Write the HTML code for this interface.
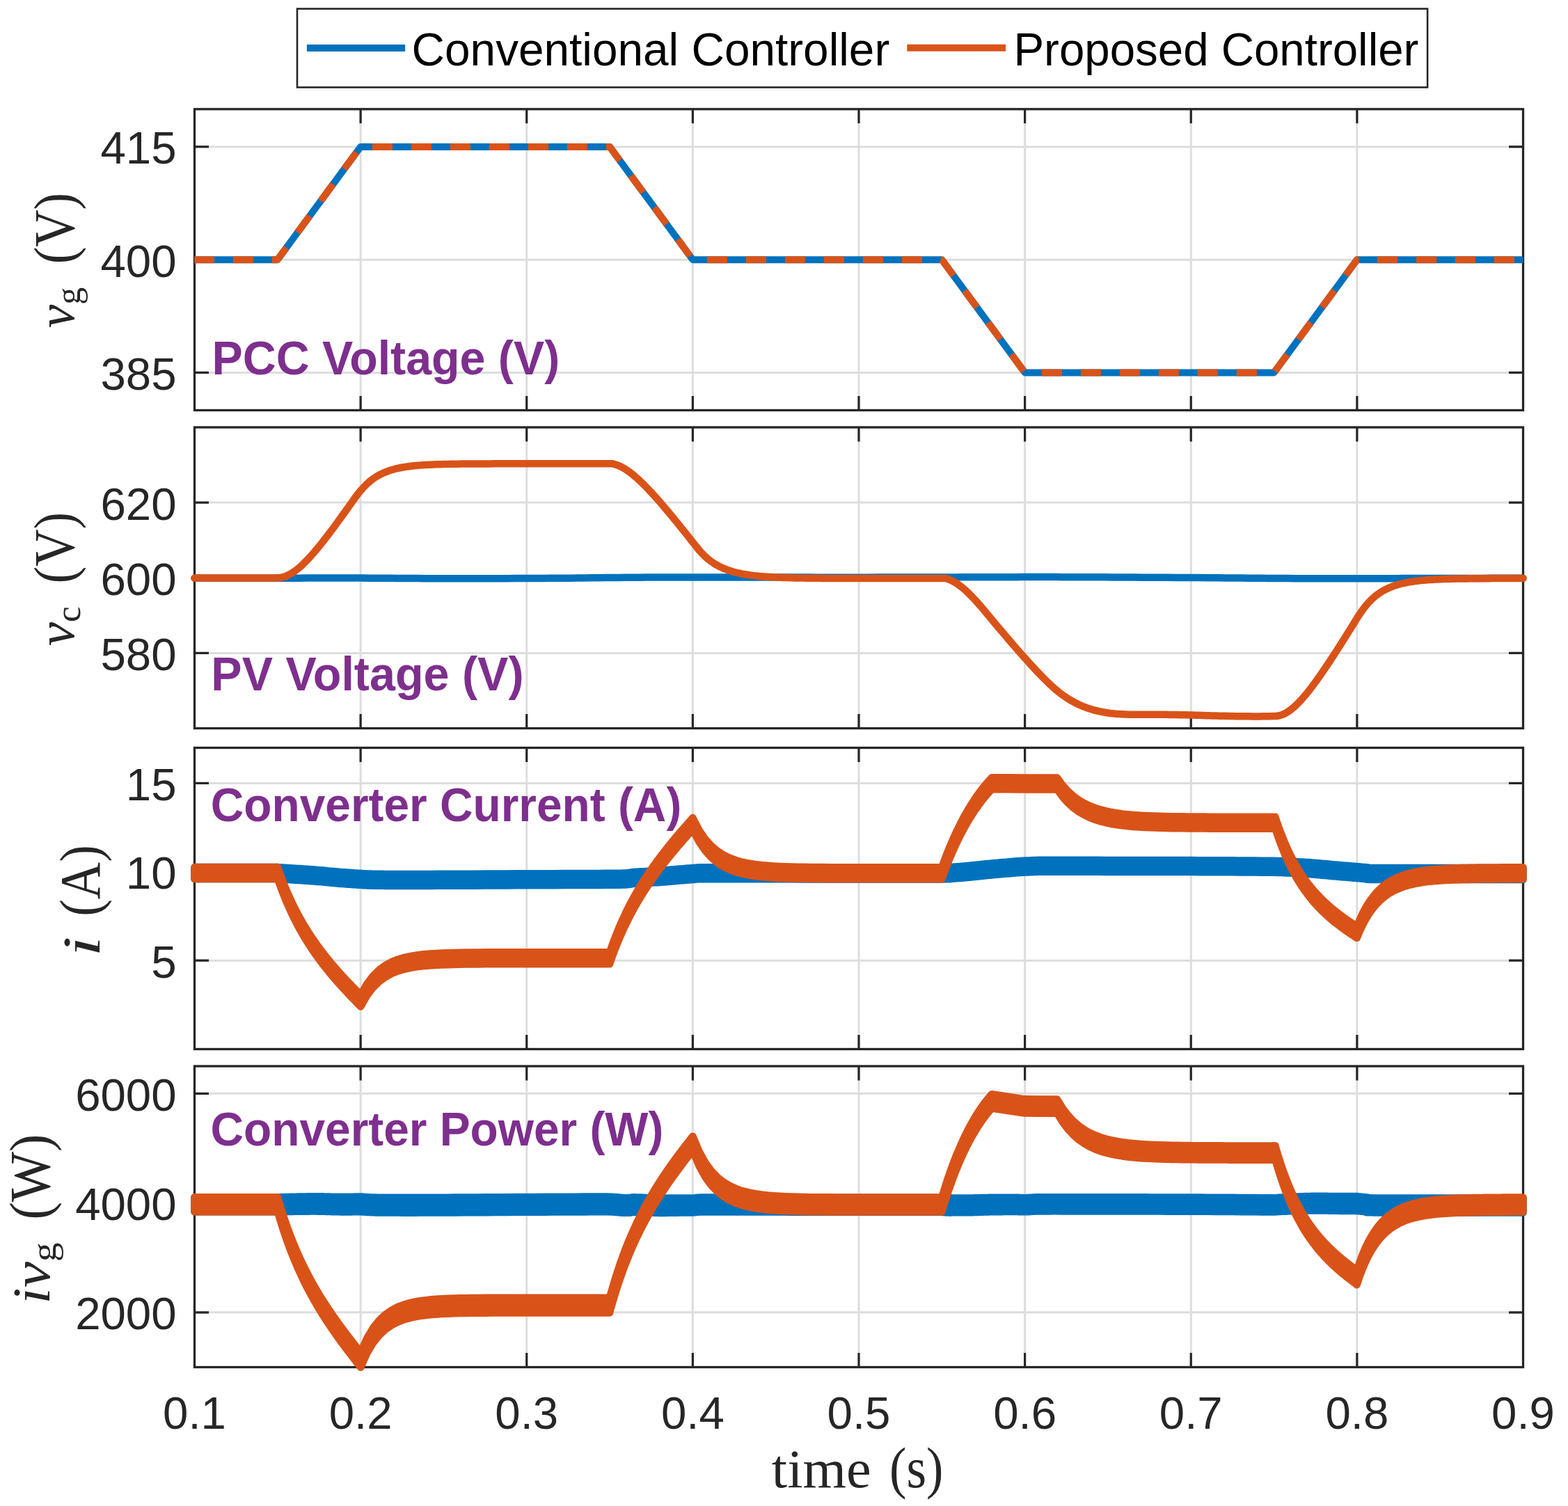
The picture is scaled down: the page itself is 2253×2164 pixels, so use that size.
<!DOCTYPE html>
<html><head><meta charset="utf-8"><title>Controller comparison</title><style>
html,body{margin:0;padding:0;background:#fff;}
svg{display:block;}
.tk{font-family:"Liberation Sans",Arial,Helvetica,sans-serif;font-size:65.4px;fill:#262626;}
.ttl{font-family:"Liberation Sans",Arial,Helvetica,sans-serif;font-size:65px;font-weight:bold;fill:#7E2F8E;}
.lg{font-family:"Liberation Sans",Arial,Helvetica,sans-serif;font-size:65px;fill:#000;}
.lx{font-family:"Liberation Serif","Times New Roman",serif;font-size:77px;fill:#262626;}
</style></head><body>
<svg xmlns="http://www.w3.org/2000/svg" width="2253" height="2164" viewBox="0 0 2253 2164">
<rect x="0" y="0" width="2253" height="2164" fill="#ffffff"/>
<path d="M518.12,156.8V589.5M756.75,156.8V589.5M995.38,156.8V589.5M1234,156.8V589.5M1472.62,156.8V589.5M1711.25,156.8V589.5M1949.88,156.8V589.5M279.5,535.41H2188.5M279.5,373.15H2188.5M279.5,210.89H2188.5" stroke="#DDDDDD" stroke-width="3" fill="none"/>
<path d="M518.12,156.8V177.3M518.12,589.5V569M756.75,156.8V177.3M756.75,589.5V569M995.38,156.8V177.3M995.38,589.5V569M1234,156.8V177.3M1234,589.5V569M1472.62,156.8V177.3M1472.62,589.5V569M1711.25,156.8V177.3M1711.25,589.5V569M1949.88,156.8V177.3M1949.88,589.5V569M279.5,535.41H300M2188.5,535.41H2168M279.5,373.15H300M2188.5,373.15H2168M279.5,210.89H300M2188.5,210.89H2168" stroke="#262626" stroke-width="3.2" fill="none"/>
<rect x="279.5" y="156.8" width="1909" height="432.7" fill="none" stroke="#262626" stroke-width="3.3"/>
<text x="253.6" y="560.01" class="tk" text-anchor="end">385</text>
<text x="253.6" y="397.75" class="tk" text-anchor="end">400</text>
<text x="253.6" y="235.49" class="tk" text-anchor="end">415</text>
<path d="M518.12,614V1046.5M756.75,614V1046.5M995.38,614V1046.5M1234,614V1046.5M1472.62,614V1046.5M1711.25,614V1046.5M1949.88,614V1046.5M279.5,938.38H2188.5M279.5,830.25H2188.5M279.5,722.12H2188.5" stroke="#DDDDDD" stroke-width="3" fill="none"/>
<path d="M518.12,614V634.5M518.12,1046.5V1026M756.75,614V634.5M756.75,1046.5V1026M995.38,614V634.5M995.38,1046.5V1026M1234,614V634.5M1234,1046.5V1026M1472.62,614V634.5M1472.62,1046.5V1026M1711.25,614V634.5M1711.25,1046.5V1026M1949.88,614V634.5M1949.88,1046.5V1026M279.5,938.38H300M2188.5,938.38H2168M279.5,830.25H300M2188.5,830.25H2168M279.5,722.12H300M2188.5,722.12H2168" stroke="#262626" stroke-width="3.2" fill="none"/>
<rect x="279.5" y="614" width="1909" height="432.5" fill="none" stroke="#262626" stroke-width="3.3"/>
<text x="253.6" y="962.98" class="tk" text-anchor="end">580</text>
<text x="253.6" y="854.85" class="tk" text-anchor="end">600</text>
<text x="253.6" y="746.73" class="tk" text-anchor="end">620</text>
<path d="M518.12,1074.5V1507.5M756.75,1074.5V1507.5M995.38,1074.5V1507.5M1234,1074.5V1507.5M1472.62,1074.5V1507.5M1711.25,1074.5V1507.5M1949.88,1074.5V1507.5M279.5,1380.15H2188.5M279.5,1252.79H2188.5M279.5,1125.44H2188.5" stroke="#DDDDDD" stroke-width="3" fill="none"/>
<path d="M518.12,1074.5V1095M518.12,1507.5V1487M756.75,1074.5V1095M756.75,1507.5V1487M995.38,1074.5V1095M995.38,1507.5V1487M1234,1074.5V1095M1234,1507.5V1487M1472.62,1074.5V1095M1472.62,1507.5V1487M1711.25,1074.5V1095M1711.25,1507.5V1487M1949.88,1074.5V1095M1949.88,1507.5V1487M279.5,1380.15H300M2188.5,1380.15H2168M279.5,1252.79H300M2188.5,1252.79H2168M279.5,1125.44H300M2188.5,1125.44H2168" stroke="#262626" stroke-width="3.2" fill="none"/>
<rect x="279.5" y="1074.5" width="1909" height="433" fill="none" stroke="#262626" stroke-width="3.3"/>
<text x="253.6" y="1404.75" class="tk" text-anchor="end">5</text>
<text x="253.6" y="1277.39" class="tk" text-anchor="end">10</text>
<text x="253.6" y="1150.04" class="tk" text-anchor="end">15</text>
<path d="M518.12,1532V1964.5M756.75,1532V1964.5M995.38,1532V1964.5M1234,1532V1964.5M1472.62,1532V1964.5M1711.25,1532V1964.5M1949.88,1532V1964.5M279.5,1885.86H2188.5M279.5,1728.59H2188.5M279.5,1571.32H2188.5" stroke="#DDDDDD" stroke-width="3" fill="none"/>
<path d="M518.12,1532V1552.5M518.12,1964.5V1944M756.75,1532V1552.5M756.75,1964.5V1944M995.38,1532V1552.5M995.38,1964.5V1944M1234,1532V1552.5M1234,1964.5V1944M1472.62,1532V1552.5M1472.62,1964.5V1944M1711.25,1532V1552.5M1711.25,1964.5V1944M1949.88,1532V1552.5M1949.88,1964.5V1944M279.5,1885.86H300M2188.5,1885.86H2168M279.5,1728.59H300M2188.5,1728.59H2168M279.5,1571.32H300M2188.5,1571.32H2168" stroke="#262626" stroke-width="3.2" fill="none"/>
<rect x="279.5" y="1532" width="1909" height="432.5" fill="none" stroke="#262626" stroke-width="3.3"/>
<text x="253.6" y="1910.46" class="tk" text-anchor="end">2000</text>
<text x="253.6" y="1753.19" class="tk" text-anchor="end">4000</text>
<text x="253.6" y="1595.92" class="tk" text-anchor="end">6000</text>
<path d="M279.5,373.15L398.81,373.15L518.12,210.89L876.06,210.89L995.38,373.15L1353.31,373.15L1472.62,535.41L1830.56,535.41L1949.88,373.15L2188.5,373.15" stroke="#0072BD" stroke-width="10" fill="none" stroke-linecap="butt" stroke-linejoin="round"/>
<path d="M279.5,373.15L398.81,373.15L518.12,210.89L876.06,210.89L995.38,373.15L1353.31,373.15L1472.62,535.41L1830.56,535.41L1949.88,373.15L2188.5,373.15" stroke="#D95319" stroke-width="10" fill="none" stroke-linecap="butt" stroke-linejoin="round" stroke-dasharray="28.40 26.90 29.10 26.90 29.33 27.20 29.42 27.20 29.42 27.20 29.42 27.01 29.10 26.90 29.10 26.90 29.10 26.90 29.10 26.90 29.10 26.90 29.10 26.90 29.46 27.31 29.54 27.31 29.54 27.31 29.54 27.00 29.10 26.90 29.10 26.90 29.10 26.90 29.10 26.90 29.10 26.90 29.10 26.90 29.53 27.32 29.55 27.32 29.55 27.32 29.55 26.94 29.10 26.90 29.10 26.90 29.10 26.90 29.10 26.90 29.10 26.90 29.10 26.95 29.72 27.47 29.72 27.47 29.72 27.47 29.67 26.90 29.10 26.90 29.10 26.90 29.10 26.90 29.10 1012.48"/>
<path d="M279.5,830.7L286.76,830.7L296.22,830.7L307.44,830.71L320.01,830.71L333.5,830.71L347.49,830.71L361.56,830.71L375.28,830.71L388.24,830.71L400,830.7L410.83,830.68L421.31,830.66L431.51,830.63L441.48,830.6L451.28,830.56L460.98,830.53L470.65,830.51L480.33,830.49L490.09,830.49L500,830.5L510,830.53L520,830.58L530,830.64L540,830.71L550,830.78L560,830.86L570,830.93L580,831L590,831.06L600,831.1L610,831.13L620,831.16L630,831.18L640,831.2L650,831.21L660,831.22L670,831.22L680,831.22L690,831.21L700,831.2L710,831.18L720,831.16L730,831.14L740,831.1L750,831.07L760,831.03L770,830.98L780,830.93L790,830.87L800,830.8L810,830.72L820,830.63L830,830.53L840,830.41L850,830.3L860,830.19L870,830.07L880,829.97L890,829.88L900,829.8L910,829.73L920,829.67L930,829.62L940,829.57L950,829.52L960,829.49L970,829.46L980,829.43L990,829.41L1000,829.4L1009.55,829.4L1018.4,829.4L1026.85,829.42L1035.2,829.45L1043.75,829.47L1052.8,829.51L1062.65,829.54L1073.6,829.56L1085.95,829.59L1100,829.6L1116.4,829.61L1135.2,829.62L1155.8,829.62L1177.6,829.63L1200,829.63L1222.4,829.63L1244.2,829.63L1264.8,829.62L1283.6,829.61L1300,829.6L1314.05,829.58L1326.4,829.56L1337.35,829.53L1347.2,829.5L1356.25,829.46L1364.8,829.43L1373.15,829.39L1381.6,829.36L1390.45,829.33L1400,829.3L1410,829.27L1420,829.25L1430,829.22L1440,829.19L1450,829.16L1460,829.14L1470,829.12L1480,829.11L1490,829.1L1500,829.1L1509.78,829.11L1519.2,829.12L1528.42,829.13L1537.6,829.16L1546.88,829.18L1556.4,829.21L1566.33,829.25L1576.8,829.29L1587.97,829.34L1600,829.4L1613.2,829.47L1627.6,829.54L1642.9,829.63L1658.8,829.72L1675,829.82L1691.2,829.92L1707.1,830.02L1722.4,830.12L1736.8,830.21L1750,830.3L1762.03,830.39L1773.2,830.48L1783.67,830.57L1793.6,830.66L1803.12,830.74L1812.4,830.83L1821.58,830.91L1830.8,830.98L1840.22,831.04L1850,831.1L1860,831.15L1870,831.19L1880,831.22L1890,831.25L1900,831.27L1910,831.28L1920,831.3L1930,831.3L1940,831.3L1950,831.3L1959.83,831.29L1969.38,831.27L1978.79,831.24L1988.15,831.21L1997.59,831.17L2007.23,831.14L2017.17,831.1L2027.54,831.06L2038.44,831.03L2050,831L2062.91,830.98L2077.45,830.95L2093.08,830.93L2109.28,830.9L2125.5,830.88L2141.22,830.86L2155.92,830.84L2169.05,830.83L2180.09,830.81L2188.5,830.8" stroke="#0072BD" stroke-width="10.5" fill="none" stroke-linecap="round" stroke-linejoin="round"/>
<path d="M279.5,830.6L284.55,830.6L289.6,830.6L294.64,830.6L299.69,830.6L304.74,830.6L309.79,830.6L314.84,830.6L319.88,830.6L324.93,830.6L329.98,830.6L335.03,830.6L340.07,830.6L345.12,830.6L350.17,830.6L355.22,830.6L360.27,830.6L365.31,830.6L370.36,830.6L375.41,830.6L380.46,830.6L385.51,830.6L390.55,830.6L395.6,830.59L400.65,830.32L405.7,829.47L410.75,827.9L415.79,825.6L420.84,822.61L425.89,818.98L430.94,814.8L435.98,810.14L441.03,805.07L446.08,799.63L451.13,793.9L456.18,787.9L461.22,781.69L466.27,775.3L471.32,768.75L476.37,762.06L481.42,755.27L486.46,748.38L491.51,741.42L496.56,734.38L501.61,727.3L506.66,720.16L511.7,713.16L516.75,706.65L521.8,700.81L526.85,695.68L531.89,691.24L536.94,687.42L541.99,684.17L547.04,681.4L552.09,679.05L557.13,677.06L562.18,675.38L567.23,673.96L572.28,672.76L577.33,671.75L582.37,670.9L587.42,670.18L592.47,669.57L597.52,669.06L602.57,668.62L607.61,668.26L612.66,667.95L617.71,667.69L622.76,667.48L627.81,667.29L632.85,667.14L637.9,667L642.95,666.89L648,666.8L653.04,666.72L658.09,666.66L663.14,666.6L668.19,666.55L673.24,666.51L678.28,666.48L683.33,666.45L688.38,666.43L693.43,666.41L698.48,666.39L703.52,666.38L708.57,666.36L713.62,666.35L718.67,666.35L723.72,666.34L728.76,666.33L733.81,666.33L738.86,666.32L743.91,666.32L748.95,666.32L754,666.31L759.05,666.31L764.1,666.31L769.15,666.31L774.19,666.31L779.24,666.31L784.29,666.31L789.34,666.3L794.39,666.3L799.43,666.3L804.48,666.3L809.53,666.3L814.58,666.3L819.63,666.3L824.67,666.3L829.72,666.3L834.77,666.3L839.82,666.3L844.86,666.3L849.91,666.3L854.96,666.3L860.01,666.3L865.06,666.3L870.1,666.3L875.15,666.3L880.2,666.3L884.22,667.48L888.25,668.83L892.27,670.63L896.3,672.8L900.32,675.33L904.35,678.16L908.37,681.26L912.39,684.6L916.42,688.15L920.44,691.89L924.47,695.81L928.49,699.87L932.52,704.07L936.54,708.38L940.57,712.8L944.59,717.31L948.61,721.91L952.64,726.58L956.66,731.31L960.69,736.1L964.71,740.95L968.74,745.84L972.76,750.77L976.78,755.74L980.81,760.73L984.83,765.76L988.86,770.81L992.88,775.89L996.91,780.98L1000.93,786.1L1004.96,791.09L1008.98,795.57L1013,799.54L1017.03,803.07L1021.05,806.21L1025.08,808.99L1029.1,811.47L1033.13,813.66L1037.15,815.61L1041.17,817.34L1045.2,818.88L1049.22,820.25L1053.25,821.46L1057.27,822.54L1061.3,823.5L1065.32,824.35L1069.35,825.1L1073.37,825.77L1077.39,826.37L1081.42,826.9L1085.44,827.37L1089.47,827.79L1093.49,828.16L1097.52,828.49L1101.54,828.78L1105.56,829.04L1109.59,829.27L1113.61,829.47L1117.64,829.66L1121.66,829.82L1125.69,829.96L1129.71,830.09L1133.74,830.2L1137.76,830.3L1141.78,830.39L1145.81,830.47L1149.83,830.54L1153.86,830.6L1157.88,830.66L1161.91,830.71L1165.93,830.75L1169.95,830.79L1173.98,830.83L1178,830.86L1182.03,830.88L1186.05,830.91L1190.08,830.93L1194.1,830.95L1198.13,830.97L1202.15,830.98L1206.17,830.99L1210.2,831.01L1214.22,831.02L1218.25,831.03L1222.27,831.03L1226.3,831.04L1230.32,831.05L1234.34,831.05L1238.37,831.06L1242.39,831.06L1246.42,831.07L1250.44,831.07L1254.47,831.07L1258.49,831.08L1262.52,831.08L1266.54,831.08L1270.56,831.08L1274.59,831.09L1278.61,831.09L1282.64,831.09L1286.66,831.09L1290.69,831.09L1294.71,831.09L1298.73,831.09L1302.76,831.09L1306.78,831.09L1310.81,831.1L1314.83,831.1L1318.86,831.1L1322.88,831.1L1326.91,831.1L1330.93,831.1L1334.95,831.1L1338.98,831.1L1343,831.1L1347.03,831.1L1351.05,831.1L1355.08,831.1L1359.1,831.1L1363.89,832.68L1368.69,834.84L1373.48,837.58L1378.28,840.86L1383.07,844.62L1387.87,848.8L1392.66,853.37L1397.46,858.26L1402.25,863.43L1407.05,868.82L1411.84,874.38L1416.64,880.06L1421.43,885.81L1426.23,891.58L1431.02,897.33L1435.82,903.05L1440.61,908.74L1445.41,914.4L1450.2,920.02L1455,925.59L1459.79,931.12L1464.59,936.59L1469.38,942.01L1474.18,947.37L1478.97,952.67L1483.77,957.9L1488.56,963.05L1493.36,968.13L1498.15,973.09L1502.95,977.91L1507.74,982.56L1512.54,986.99L1517.33,991.18L1522.13,995.09L1526.92,998.7L1531.72,1002.03L1536.51,1005.09L1541.31,1007.88L1546.1,1010.43L1550.9,1012.73L1555.69,1014.81L1560.49,1016.68L1565.28,1018.34L1570.08,1019.81L1574.87,1021.1L1579.67,1022.22L1584.46,1023.19L1589.26,1024.01L1594.05,1024.69L1598.85,1025.26L1603.64,1025.71L1608.44,1026.07L1613.23,1026.33L1618.03,1026.52L1622.82,1026.65L1627.62,1026.72L1632.41,1026.75L1637.21,1026.75L1642,1026.73L1646.8,1026.71L1651.59,1026.69L1656.39,1026.68L1661.18,1026.69L1665.98,1026.72L1670.77,1026.76L1675.57,1026.81L1680.36,1026.88L1685.16,1026.96L1689.95,1027.05L1694.75,1027.15L1699.54,1027.26L1704.34,1027.37L1709.13,1027.49L1713.93,1027.61L1718.72,1027.74L1723.52,1027.87L1728.31,1028L1733.11,1028.14L1737.9,1028.27L1742.7,1028.4L1747.49,1028.52L1752.29,1028.65L1757.08,1028.76L1761.88,1028.87L1766.67,1028.98L1771.47,1029.07L1776.26,1029.15L1781.06,1029.23L1785.85,1029.29L1790.65,1029.34L1795.44,1029.37L1800.24,1029.39L1805.03,1029.39L1809.83,1029.38L1814.62,1029.34L1819.42,1029.29L1824.21,1029.22L1829.01,1029.12L1833.8,1029L1836.78,1028.57L1839.76,1027.86L1842.74,1026.84L1845.72,1025.52L1848.7,1023.91L1851.68,1022.01L1854.66,1019.85L1857.65,1017.44L1860.63,1014.81L1863.61,1011.97L1866.59,1008.94L1869.57,1005.74L1872.55,1002.38L1875.53,998.87L1878.51,995.23L1881.49,991.47L1884.47,987.6L1887.45,983.63L1890.43,979.58L1893.41,975.44L1896.39,971.22L1899.37,966.94L1902.36,962.6L1905.34,958.2L1908.32,953.75L1911.3,949.25L1914.28,944.71L1917.26,940.13L1920.24,935.52L1923.22,930.88L1926.2,926.2L1929.18,921.5L1932.16,916.78L1935.14,912.04L1938.12,907.27L1941.1,902.49L1944.08,897.7L1947.07,892.88L1950.05,888.09L1953.03,883.44L1956.01,879.02L1958.99,874.88L1961.97,871.04L1964.95,867.49L1967.93,864.24L1970.91,861.25L1973.89,858.52L1976.87,856.03L1979.85,853.77L1982.83,851.7L1985.81,849.82L1988.79,848.11L1991.78,846.55L1994.76,845.14L1997.74,843.85L2000.72,842.68L2003.7,841.62L2006.68,840.65L2009.66,839.77L2012.64,838.97L2015.62,838.25L2018.6,837.59L2021.58,836.99L2024.56,836.44L2027.54,835.95L2030.52,835.5L2033.51,835.09L2036.49,834.71L2039.47,834.38L2042.45,834.07L2045.43,833.79L2048.41,833.53L2051.39,833.3L2054.37,833.09L2057.35,832.9L2060.33,832.73L2063.31,832.57L2066.29,832.43L2069.27,832.3L2072.25,832.18L2075.23,832.07L2078.22,831.98L2081.2,831.89L2084.18,831.81L2087.16,831.73L2090.14,831.67L2093.12,831.61L2096.1,831.55L2099.08,831.5L2102.06,831.45L2105.04,831.41L2108.02,831.38L2111,831.34L2113.98,831.31L2116.96,831.28L2119.94,831.26L2122.93,831.23L2125.91,831.21L2128.89,831.19L2131.87,831.17L2134.85,831.16L2137.83,831.14L2140.81,831.13L2143.79,831.12L2146.77,831.11L2149.75,831.1L2152.73,831.09L2155.71,831.08L2158.69,831.07L2161.67,831.07L2164.65,831.06L2167.64,831.06L2170.62,831.05L2173.6,831.05L2176.58,831.04L2179.56,831.04L2182.54,831.03L2185.52,831.03L2188.5,831.03" stroke="#D95319" stroke-width="10.5" fill="none" stroke-linecap="round" stroke-linejoin="round"/>
<path d="M279.5,1246.1L309.38,1246.1L339.25,1246.1L369.12,1246.1L399,1246.1L400.93,1246.22L403.46,1246.38L406.45,1246.56L409.81,1246.77L413.41,1246.99L417.13,1247.22L420.87,1247.45L424.5,1247.68L427.92,1247.9L431,1248.1L433.81,1248.29L436.52,1248.46L439.13,1248.64L441.67,1248.81L444.16,1248.97L446.61,1249.15L449.05,1249.32L451.5,1249.5L453.98,1249.7L456.5,1249.9L459.05,1250.12L461.6,1250.35L464.15,1250.59L466.7,1250.84L469.25,1251.09L471.8,1251.35L474.35,1251.6L476.9,1251.84L479.45,1252.08L482,1252.3L484.55,1252.51L487.1,1252.72L489.65,1252.92L492.2,1253.12L494.75,1253.31L497.3,1253.5L499.85,1253.68L502.4,1253.86L504.95,1254.03L507.5,1254.2L510.04,1254.37L512.58,1254.53L515.1,1254.69L517.63,1254.85L520.16,1255L522.69,1255.14L525.24,1255.28L527.8,1255.4L530.39,1255.51L533,1255.6L535.49,1255.68L537.78,1255.74L539.95,1255.78L542.11,1255.81L544.34,1255.84L546.75,1255.85L549.43,1255.87L552.46,1255.88L555.96,1255.89L560,1255.9L564.33,1255.91L568.69,1255.93L573.21,1255.94L578.02,1255.95L583.25,1255.96L589.02,1255.96L595.45,1255.95L602.67,1255.94L610.81,1255.93L620,1255.9L630.51,1255.86L642.36,1255.82L655.3,1255.76L669.08,1255.7L683.44,1255.63L698.12,1255.56L712.87,1255.49L727.44,1255.42L741.57,1255.36L755,1255.3L768.36,1255.25L782.27,1255.2L796.45,1255.15L810.62,1255.1L824.5,1255.06L837.82,1255.01L850.31,1254.96L861.69,1254.91L871.68,1254.86L880,1254.8L886.49,1254.74L891.35,1254.68L894.84,1254.62L897.22,1254.56L898.75,1254.5L899.7,1254.43L900.34,1254.36L900.93,1254.28L901.73,1254.2L903,1254.1L904.35,1254L905.28,1253.89L905.91,1253.77L906.36,1253.65L906.75,1253.52L907.2,1253.38L907.83,1253.25L908.76,1253.1L910.11,1252.95L912,1252.8L914.49,1252.64L917.5,1252.48L920.92,1252.3L924.63,1252.13L928.53,1251.94L932.51,1251.76L936.45,1251.57L940.26,1251.38L943.81,1251.19L947,1251L949.88,1250.81L952.59,1250.61L955.15,1250.41L957.6,1250.21L959.97,1250.01L962.28,1249.8L964.55,1249.6L966.83,1249.4L969.14,1249.2L971.5,1249L973.91,1248.8L976.33,1248.6L978.75,1248.39L981.16,1248.18L983.56,1247.98L985.93,1247.78L988.27,1247.59L990.57,1247.41L992.81,1247.25L995,1247.1L996.82,1246.96L998.12,1246.84L999.09,1246.72L999.96,1246.62L1000.93,1246.52L1002.21,1246.44L1004.01,1246.36L1006.53,1246.3L1009.99,1246.24L1014.6,1246.2L1020.25,1246.17L1026.68,1246.15L1033.82,1246.15L1041.64,1246.16L1050.09,1246.18L1059.11,1246.2L1068.66,1246.23L1078.69,1246.26L1089.16,1246.28L1100,1246.3L1111.57,1246.32L1124.1,1246.34L1137.39,1246.36L1151.24,1246.39L1165.46,1246.41L1179.84,1246.44L1194.19,1246.46L1208.29,1246.48L1221.97,1246.49L1235,1246.5L1247.96,1246.5L1261.35,1246.51L1274.93,1246.51L1288.42,1246.51L1301.56,1246.5L1314.1,1246.49L1325.78,1246.48L1336.33,1246.46L1345.49,1246.43L1353,1246.4L1358.56,1246.37L1362.27,1246.33L1364.48,1246.3L1365.53,1246.26L1365.77,1246.22L1365.55,1246.16L1365.22,1246.1L1365.12,1246.02L1365.59,1245.92L1367,1245.8L1369.1,1245.66L1371.42,1245.5L1373.91,1245.32L1376.53,1245.12L1379.24,1244.92L1382,1244.7L1384.76,1244.48L1387.49,1244.25L1390.15,1244.03L1392.7,1243.8L1395.17,1243.57L1397.62,1243.32L1400.06,1243.07L1402.48,1242.81L1404.88,1242.55L1407.26,1242.29L1409.61,1242.03L1411.94,1241.78L1414.23,1241.53L1416.5,1241.3L1418.71,1241.08L1420.84,1240.87L1422.92,1240.67L1424.96,1240.47L1426.99,1240.28L1429.04,1240.08L1431.11,1239.89L1433.23,1239.7L1435.42,1239.5L1437.7,1239.3L1440.12,1239.09L1442.66,1238.87L1445.31,1238.64L1448.01,1238.41L1450.72,1238.18L1453.42,1237.95L1456.05,1237.74L1458.59,1237.54L1460.98,1237.36L1463.2,1237.2L1465.21,1237.06L1467.04,1236.95L1468.73,1236.84L1470.33,1236.76L1471.86,1236.68L1473.37,1236.61L1474.9,1236.54L1476.48,1236.48L1478.17,1236.42L1480,1236.35L1481.61,1236.28L1482.75,1236.21L1483.65,1236.14L1484.52,1236.08L1485.59,1236.02L1487.06,1235.96L1489.16,1235.91L1492.11,1235.86L1496.11,1235.83L1501.4,1235.8L1508.07,1235.78L1515.96,1235.78L1524.88,1235.78L1534.64,1235.79L1545.04,1235.8L1555.89,1235.82L1567,1235.84L1578.19,1235.86L1589.25,1235.88L1600,1235.9L1610.68,1235.91L1621.61,1235.93L1632.74,1235.94L1644.03,1235.95L1655.41,1235.97L1666.84,1235.99L1678.27,1236.01L1689.64,1236.03L1700.9,1236.06L1712,1236.1L1723.31,1236.14L1735.1,1236.19L1747.15,1236.24L1759.23,1236.3L1771.12,1236.36L1782.61,1236.43L1793.46,1236.49L1803.46,1236.56L1812.38,1236.63L1820,1236.7L1826.16,1236.77L1830.99,1236.83L1834.73,1236.9L1837.62,1236.97L1839.88,1237.04L1841.74,1237.11L1843.46,1237.19L1845.25,1237.29L1847.35,1237.39L1850,1237.5L1853.04,1237.63L1856.13,1237.77L1859.25,1237.91L1862.38,1238.07L1865.5,1238.24L1868.58,1238.41L1871.59,1238.58L1874.51,1238.75L1877.32,1238.93L1880,1239.1L1882.52,1239.27L1884.9,1239.44L1887.16,1239.62L1889.33,1239.79L1891.44,1239.97L1893.51,1240.15L1895.58,1240.33L1897.66,1240.52L1899.8,1240.71L1902,1240.9L1904.25,1241.1L1906.5,1241.3L1908.76,1241.51L1911.03,1241.72L1913.31,1241.94L1915.61,1242.15L1917.92,1242.37L1920.26,1242.58L1922.61,1242.79L1925,1243L1927.46,1243.21L1930.03,1243.42L1932.67,1243.63L1935.34,1243.84L1938,1244.05L1940.62,1244.26L1943.17,1244.45L1945.61,1244.65L1947.9,1244.83L1950,1245L1951.88,1245.16L1953.56,1245.31L1955.08,1245.46L1956.48,1245.6L1957.81,1245.73L1959.12,1245.86L1960.45,1245.98L1961.84,1246.09L1963.34,1246.2L1965,1246.3L1965.97,1246.4L1965.74,1246.49L1964.85,1246.58L1963.83,1246.66L1963.22,1246.73L1963.55,1246.8L1965.36,1246.86L1969.18,1246.91L1975.55,1246.96L1985,1247L1998.83,1247.03L2017.21,1247.04L2038.97,1247.05L2062.96,1247.05L2088,1247.04L2112.94,1247.03L2136.63,1247.02L2157.89,1247.01L2175.57,1247L2188.5,1247L2188.5,1264L2175.57,1264L2157.89,1264.01L2136.63,1264.02L2112.94,1264.03L2088,1264.04L2062.96,1264.05L2038.97,1264.05L2017.21,1264.04L1998.83,1264.03L1985,1264L1975.55,1263.96L1969.18,1263.91L1965.36,1263.86L1963.55,1263.8L1963.22,1263.73L1963.83,1263.66L1964.85,1263.58L1965.74,1263.49L1965.97,1263.4L1965,1263.3L1963.34,1263.2L1961.84,1263.09L1960.45,1262.98L1959.12,1262.86L1957.81,1262.73L1956.48,1262.6L1955.08,1262.46L1953.56,1262.31L1951.88,1262.16L1950,1262L1947.9,1261.83L1945.61,1261.65L1943.17,1261.45L1940.62,1261.26L1938,1261.05L1935.34,1260.84L1932.67,1260.63L1930.03,1260.42L1927.46,1260.21L1925,1260L1922.61,1259.79L1920.26,1259.58L1917.92,1259.37L1915.61,1259.15L1913.31,1258.94L1911.03,1258.72L1908.76,1258.51L1906.5,1258.3L1904.25,1258.1L1902,1257.9L1899.8,1257.71L1897.66,1257.52L1895.58,1257.33L1893.51,1257.15L1891.44,1256.97L1889.33,1256.79L1887.16,1256.62L1884.9,1256.44L1882.52,1256.27L1880,1256.1L1877.32,1255.93L1874.51,1255.75L1871.59,1255.58L1868.58,1255.41L1865.5,1255.24L1862.38,1255.07L1859.25,1254.91L1856.13,1254.77L1853.04,1254.63L1850,1254.5L1847.35,1254.39L1845.25,1254.29L1843.46,1254.19L1841.74,1254.11L1839.88,1254.04L1837.62,1253.97L1834.73,1253.9L1830.99,1253.83L1826.16,1253.77L1820,1253.7L1812.38,1253.63L1803.46,1253.56L1793.46,1253.49L1782.61,1253.43L1771.12,1253.36L1759.23,1253.3L1747.15,1253.24L1735.1,1253.19L1723.31,1253.14L1712,1253.1L1700.9,1253.06L1689.64,1253.03L1678.27,1253.01L1666.84,1252.99L1655.41,1252.97L1644.03,1252.95L1632.74,1252.94L1621.61,1252.93L1610.68,1252.91L1600,1252.9L1589.25,1252.88L1578.19,1252.86L1567,1252.84L1555.89,1252.82L1545.04,1252.8L1534.64,1252.79L1524.88,1252.78L1515.96,1252.78L1508.07,1252.78L1501.4,1252.8L1496.11,1252.83L1492.11,1252.86L1489.16,1252.91L1487.06,1252.96L1485.59,1253.02L1484.52,1253.08L1483.65,1253.14L1482.75,1253.21L1481.61,1253.28L1480,1253.35L1478.17,1253.42L1476.48,1253.48L1474.9,1253.54L1473.37,1253.61L1471.86,1253.68L1470.33,1253.76L1468.73,1253.84L1467.04,1253.95L1465.21,1254.06L1463.2,1254.2L1460.98,1254.36L1458.59,1254.54L1456.05,1254.74L1453.42,1254.95L1450.72,1255.18L1448.01,1255.41L1445.31,1255.64L1442.66,1255.87L1440.12,1256.09L1437.7,1256.3L1435.42,1256.5L1433.23,1256.7L1431.11,1256.89L1429.04,1257.08L1426.99,1257.28L1424.96,1257.47L1422.92,1257.67L1420.84,1257.87L1418.71,1258.08L1416.5,1258.3L1414.23,1258.53L1411.94,1258.78L1409.61,1259.03L1407.26,1259.29L1404.88,1259.55L1402.48,1259.81L1400.06,1260.07L1397.62,1260.32L1395.17,1260.57L1392.7,1260.8L1390.15,1261.03L1387.49,1261.25L1384.76,1261.48L1382,1261.7L1379.24,1261.92L1376.53,1262.12L1373.91,1262.32L1371.42,1262.5L1369.1,1262.66L1367,1262.8L1365.59,1262.92L1365.12,1263.02L1365.22,1263.1L1365.55,1263.16L1365.77,1263.22L1365.53,1263.26L1364.48,1263.3L1362.27,1263.33L1358.56,1263.37L1353,1263.4L1345.49,1263.43L1336.33,1263.46L1325.78,1263.48L1314.1,1263.49L1301.56,1263.5L1288.42,1263.51L1274.93,1263.51L1261.35,1263.51L1247.96,1263.5L1235,1263.5L1221.97,1263.49L1208.29,1263.48L1194.19,1263.46L1179.84,1263.44L1165.46,1263.41L1151.24,1263.39L1137.39,1263.36L1124.1,1263.34L1111.57,1263.32L1100,1263.3L1089.16,1263.28L1078.69,1263.26L1068.66,1263.23L1059.11,1263.2L1050.09,1263.18L1041.64,1263.16L1033.82,1263.15L1026.68,1263.15L1020.25,1263.17L1014.6,1263.2L1009.99,1263.24L1006.53,1263.3L1004.01,1263.36L1002.21,1263.44L1000.93,1263.52L999.96,1263.62L999.09,1263.72L998.12,1263.84L996.82,1263.96L995,1264.1L992.81,1264.25L990.57,1264.41L988.27,1264.59L985.93,1264.78L983.56,1264.98L981.16,1265.18L978.75,1265.39L976.33,1265.6L973.91,1265.8L971.5,1266L969.14,1266.2L966.83,1266.4L964.55,1266.6L962.28,1266.8L959.97,1267.01L957.6,1267.21L955.15,1267.41L952.59,1267.61L949.88,1267.81L947,1268L943.81,1268.19L940.26,1268.38L936.45,1268.57L932.51,1268.76L928.53,1268.94L924.63,1269.13L920.92,1269.3L917.5,1269.48L914.49,1269.64L912,1269.8L910.11,1269.95L908.76,1270.1L907.83,1270.25L907.2,1270.38L906.75,1270.52L906.36,1270.65L905.91,1270.77L905.28,1270.89L904.35,1271L903,1271.1L901.73,1271.2L900.93,1271.28L900.34,1271.36L899.7,1271.43L898.75,1271.5L897.22,1271.56L894.84,1271.62L891.35,1271.68L886.49,1271.74L880,1271.8L871.68,1271.86L861.69,1271.91L850.31,1271.96L837.82,1272.01L824.5,1272.06L810.62,1272.1L796.45,1272.15L782.27,1272.2L768.36,1272.25L755,1272.3L741.57,1272.36L727.44,1272.42L712.87,1272.49L698.12,1272.56L683.44,1272.63L669.08,1272.7L655.3,1272.76L642.36,1272.82L630.51,1272.86L620,1272.9L610.81,1272.93L602.67,1272.94L595.45,1272.95L589.02,1272.96L583.25,1272.96L578.02,1272.95L573.21,1272.94L568.69,1272.93L564.33,1272.91L560,1272.9L555.96,1272.89L552.46,1272.88L549.43,1272.87L546.75,1272.85L544.34,1272.84L542.11,1272.81L539.95,1272.78L537.78,1272.74L535.49,1272.68L533,1272.6L530.39,1272.51L527.8,1272.4L525.24,1272.28L522.69,1272.14L520.16,1272L517.63,1271.85L515.1,1271.69L512.58,1271.53L510.04,1271.37L507.5,1271.2L504.95,1271.03L502.4,1270.86L499.85,1270.68L497.3,1270.5L494.75,1270.31L492.2,1270.12L489.65,1269.92L487.1,1269.72L484.55,1269.51L482,1269.3L479.45,1269.08L476.9,1268.84L474.35,1268.6L471.8,1268.35L469.25,1268.09L466.7,1267.84L464.15,1267.59L461.6,1267.35L459.05,1267.12L456.5,1266.9L453.98,1266.7L451.5,1266.5L449.05,1266.32L446.61,1266.15L444.16,1265.97L441.67,1265.81L439.13,1265.64L436.52,1265.46L433.81,1265.29L431,1265.1L427.92,1264.9L424.5,1264.68L420.87,1264.45L417.13,1264.22L413.41,1263.99L409.81,1263.77L406.45,1263.56L403.46,1263.38L400.93,1263.22L399,1263.1L369.12,1263.1L339.25,1263.1L309.38,1263.1L279.5,1263.1Z" fill="#0072BD" stroke="#0072BD" stroke-width="10.5" stroke-linejoin="round"/>
<path d="M279.5,1246.1L309.38,1246.1L339.25,1246.1L369.12,1246.1L399,1246.1L401.98,1254.5L404.96,1262.5L407.95,1270.12L410.93,1277.39L413.91,1284.34L416.89,1290.98L419.88,1297.34L422.86,1303.45L425.84,1309.3L428.82,1314.94L431.81,1320.36L434.79,1325.59L437.77,1330.64L440.75,1335.52L443.74,1340.24L446.72,1344.82L449.7,1349.26L452.69,1353.57L455.67,1357.77L458.65,1361.86L461.63,1365.85L464.62,1369.74L467.6,1373.54L470.58,1377.27L473.56,1380.92L476.54,1384.5L479.53,1388.01L482.51,1391.46L485.49,1394.86L488.47,1398.2L491.46,1401.49L494.44,1404.74L497.42,1407.95L500.4,1411.11L503.39,1414.24L506.37,1417.34L509.35,1420.41L512.33,1423.44L515.32,1426.45L518.3,1429.43L527.24,1413.65L536.18,1401.93L545.13,1393.24L554.07,1386.78L563.01,1381.99L571.95,1378.44L580.9,1375.8L589.84,1373.84L598.78,1372.39L607.72,1371.31L616.67,1370.51L625.61,1369.91L634.55,1369.47L643.5,1369.14L652.44,1368.9L661.38,1368.72L670.32,1368.59L679.26,1368.49L688.21,1368.41L697.15,1368.36L706.09,1368.32L715.03,1368.29L723.98,1368.26L732.92,1368.25L741.86,1368.24L750.8,1368.23L759.75,1368.22L768.69,1368.21L777.63,1368.21L786.58,1368.21L795.52,1368.21L804.46,1368.2L813.4,1368.2L822.35,1368.2L831.29,1368.2L840.23,1368.2L849.17,1368.2L858.12,1368.2L867.06,1368.2L876,1368.2L878.99,1359.7L881.97,1351.6L884.96,1343.86L887.94,1336.47L890.92,1329.39L893.91,1322.61L896.89,1316.1L899.88,1309.84L902.87,1303.81L905.85,1298L908.84,1292.4L911.82,1286.98L914.8,1281.73L917.79,1276.64L920.77,1271.7L923.76,1266.9L926.75,1262.23L929.73,1257.67L932.72,1253.23L935.7,1248.88L938.68,1244.64L941.67,1240.47L944.65,1236.4L947.64,1232.39L950.62,1228.46L953.61,1224.59L956.6,1220.78L959.58,1217.02L962.56,1213.32L965.55,1209.67L968.53,1206.06L971.52,1202.49L974.5,1198.96L977.49,1195.46L980.48,1192L983.46,1188.57L986.44,1185.17L989.43,1181.79L992.41,1178.44L995.4,1175.11L1004.35,1192.47L1013.29,1205.6L1022.24,1215.52L1031.18,1223.03L1040.12,1228.7L1049.07,1232.99L1058.01,1236.24L1066.96,1238.69L1075.9,1240.55L1084.85,1241.95L1093.8,1243.01L1102.74,1243.81L1111.68,1244.42L1120.63,1244.88L1129.58,1245.22L1138.52,1245.49L1147.46,1245.69L1156.41,1245.84L1165.36,1245.95L1174.3,1246.03L1183.24,1246.1L1192.19,1246.15L1201.13,1246.19L1210.08,1246.21L1219.03,1246.23L1227.97,1246.25L1236.91,1246.26L1245.86,1246.27L1254.81,1246.28L1263.75,1246.28L1272.7,1246.29L1281.64,1246.29L1290.59,1246.29L1299.53,1246.29L1308.47,1246.3L1317.42,1246.3L1326.37,1246.3L1335.31,1246.3L1344.26,1246.3L1353.2,1246.3L1355,1241.44L1356.79,1236.59L1358.59,1231.86L1360.38,1227.24L1362.17,1222.73L1363.97,1218.32L1365.77,1214.01L1367.56,1209.81L1369.36,1205.71L1371.15,1201.7L1372.94,1197.78L1374.74,1193.96L1376.54,1190.23L1378.33,1186.59L1380.12,1183.03L1381.92,1179.56L1383.71,1176.17L1385.51,1172.86L1387.31,1169.63L1389.1,1166.48L1390.89,1163.41L1392.69,1160.4L1394.49,1157.47L1396.28,1154.62L1398.08,1151.83L1399.87,1149.1L1401.66,1146.45L1403.46,1143.86L1405.26,1141.33L1407.05,1138.86L1408.85,1136.46L1410.64,1134.11L1412.43,1131.82L1414.23,1129.59L1416.03,1127.42L1417.82,1125.29L1419.62,1123.23L1421.41,1121.21L1423.2,1119.24L1425,1117.33L1448.5,1117.37L1472,1117.41L1495.5,1117.46L1519,1117.5L1526.84,1128.24L1534.67,1136.94L1542.51,1143.97L1550.34,1149.66L1558.17,1154.27L1566.01,1158L1573.85,1161.01L1581.68,1163.45L1589.52,1165.43L1597.35,1167.03L1605.18,1168.32L1613.02,1169.36L1620.86,1170.21L1628.69,1170.9L1636.53,1171.45L1644.36,1171.9L1652.19,1172.26L1660.03,1172.56L1667.87,1172.79L1675.7,1172.98L1683.54,1173.14L1691.37,1173.27L1699.21,1173.37L1707.04,1173.45L1714.88,1173.52L1722.71,1173.57L1730.55,1173.61L1738.38,1173.65L1746.22,1173.68L1754.05,1173.7L1761.88,1173.72L1769.72,1173.74L1777.56,1173.75L1785.39,1173.76L1793.23,1173.77L1801.06,1173.77L1808.89,1173.78L1816.73,1173.78L1824.57,1173.79L1832.4,1173.79L1835.33,1182.59L1838.27,1190.88L1841.2,1198.68L1844.13,1206.04L1847.06,1212.99L1850,1219.55L1852.93,1225.76L1855.86,1231.64L1858.79,1237.2L1861.73,1242.48L1864.66,1247.49L1867.59,1252.25L1870.52,1256.78L1873.46,1261.09L1876.39,1265.2L1879.32,1269.13L1882.25,1272.88L1885.19,1276.48L1888.12,1279.92L1891.05,1283.22L1893.98,1286.39L1896.91,1289.44L1899.85,1292.38L1902.78,1295.21L1905.71,1297.95L1908.64,1300.6L1911.58,1303.16L1914.51,1305.64L1917.44,1308.05L1920.38,1310.39L1923.31,1312.67L1926.24,1314.89L1929.17,1317.06L1932.11,1319.18L1935.04,1321.24L1937.97,1323.27L1940.9,1325.25L1943.84,1327.2L1946.77,1329.1L1949.7,1330.98L1953.68,1321.35L1957.66,1312.81L1961.64,1305.24L1965.62,1298.53L1969.6,1292.59L1973.58,1287.32L1977.56,1282.65L1981.54,1278.51L1985.52,1274.83L1989.5,1271.58L1993.48,1268.7L1997.46,1266.14L2001.44,1263.88L2005.42,1261.87L2009.4,1260.09L2013.38,1258.51L2017.36,1257.11L2021.34,1255.87L2025.32,1254.77L2029.3,1253.8L2033.28,1252.94L2037.26,1252.17L2041.24,1251.49L2045.22,1250.89L2049.2,1250.36L2053.18,1249.89L2057.16,1249.47L2061.14,1249.1L2065.12,1248.77L2069.1,1248.47L2073.08,1248.22L2077.06,1247.99L2081.04,1247.78L2085.02,1247.6L2089,1247.44L2092.98,1247.3L2096.96,1247.18L2100.94,1247.07L2104.92,1246.97L2108.9,1246.88L2112.88,1246.8L2116.86,1246.74L2120.84,1246.67L2124.82,1246.62L2128.8,1246.57L2132.78,1246.53L2136.76,1246.49L2140.74,1246.46L2144.72,1246.43L2148.7,1246.4L2152.68,1246.38L2156.66,1246.36L2160.64,1246.34L2164.62,1246.33L2168.6,1246.31L2172.58,1246.3L2176.56,1246.29L2180.54,1246.28L2184.52,1246.27L2188.5,1246.26L2188.5,1263.26L2184.52,1263.27L2180.54,1263.28L2176.56,1263.29L2172.58,1263.3L2168.6,1263.31L2164.62,1263.33L2160.64,1263.34L2156.66,1263.36L2152.68,1263.38L2148.7,1263.4L2144.72,1263.43L2140.74,1263.46L2136.76,1263.49L2132.78,1263.53L2128.8,1263.57L2124.82,1263.62L2120.84,1263.67L2116.86,1263.74L2112.88,1263.8L2108.9,1263.88L2104.92,1263.97L2100.94,1264.07L2096.96,1264.18L2092.98,1264.3L2089,1264.44L2085.02,1264.6L2081.04,1264.78L2077.06,1264.99L2073.08,1265.22L2069.1,1265.47L2065.12,1265.77L2061.14,1266.1L2057.16,1266.47L2053.18,1266.89L2049.2,1267.36L2045.22,1267.89L2041.24,1268.49L2037.26,1269.17L2033.28,1269.94L2029.3,1270.8L2025.32,1271.77L2021.34,1272.87L2017.36,1274.11L2013.38,1275.51L2009.4,1277.09L2005.42,1278.87L2001.44,1280.88L1997.46,1283.14L1993.48,1285.7L1989.5,1288.58L1985.52,1291.83L1981.54,1295.51L1977.56,1299.65L1973.58,1304.32L1969.6,1309.59L1965.62,1315.53L1961.64,1322.24L1957.66,1329.81L1953.68,1338.35L1949.7,1347.98L1946.77,1346.1L1943.84,1344.2L1940.9,1342.25L1937.97,1340.27L1935.04,1338.24L1932.11,1336.18L1929.17,1334.06L1926.24,1331.89L1923.31,1329.67L1920.38,1327.39L1917.44,1325.05L1914.51,1322.64L1911.58,1320.16L1908.64,1317.6L1905.71,1314.95L1902.78,1312.21L1899.85,1309.38L1896.91,1306.44L1893.98,1303.39L1891.05,1300.22L1888.12,1296.92L1885.19,1293.48L1882.25,1289.88L1879.32,1286.13L1876.39,1282.2L1873.46,1278.09L1870.52,1273.78L1867.59,1269.25L1864.66,1264.49L1861.73,1259.48L1858.79,1254.2L1855.86,1248.64L1852.93,1242.76L1850,1236.55L1847.06,1229.99L1844.13,1223.04L1841.2,1215.68L1838.27,1207.88L1835.33,1199.59L1832.4,1190.79L1824.57,1190.79L1816.73,1190.78L1808.89,1190.78L1801.06,1190.77L1793.23,1190.77L1785.39,1190.76L1777.56,1190.75L1769.72,1190.74L1761.88,1190.72L1754.05,1190.7L1746.22,1190.68L1738.38,1190.65L1730.55,1190.61L1722.71,1190.57L1714.88,1190.52L1707.04,1190.45L1699.21,1190.37L1691.37,1190.27L1683.54,1190.14L1675.7,1189.98L1667.87,1189.79L1660.03,1189.56L1652.19,1189.26L1644.36,1188.9L1636.53,1188.45L1628.69,1187.9L1620.86,1187.21L1613.02,1186.36L1605.18,1185.32L1597.35,1184.03L1589.52,1182.43L1581.68,1180.45L1573.85,1178.01L1566.01,1175L1558.17,1171.27L1550.34,1166.66L1542.51,1160.97L1534.67,1153.94L1526.84,1145.24L1519,1134.5L1495.5,1134.46L1472,1134.41L1448.5,1134.37L1425,1134.33L1423.2,1136.24L1421.41,1138.21L1419.62,1140.23L1417.82,1142.29L1416.03,1144.42L1414.23,1146.59L1412.43,1148.82L1410.64,1151.11L1408.85,1153.46L1407.05,1155.86L1405.26,1158.33L1403.46,1160.86L1401.66,1163.45L1399.87,1166.1L1398.08,1168.83L1396.28,1171.62L1394.49,1174.47L1392.69,1177.4L1390.89,1180.41L1389.1,1183.48L1387.31,1186.63L1385.51,1189.86L1383.71,1193.17L1381.92,1196.56L1380.12,1200.03L1378.33,1203.59L1376.54,1207.23L1374.74,1210.96L1372.94,1214.78L1371.15,1218.7L1369.36,1222.71L1367.56,1226.81L1365.77,1231.01L1363.97,1235.32L1362.17,1239.73L1360.38,1244.24L1358.59,1248.86L1356.79,1253.59L1355,1258.44L1353.2,1263.3L1344.26,1263.3L1335.31,1263.3L1326.37,1263.3L1317.42,1263.3L1308.47,1263.3L1299.53,1263.29L1290.59,1263.29L1281.64,1263.29L1272.7,1263.29L1263.75,1263.28L1254.81,1263.28L1245.86,1263.27L1236.91,1263.26L1227.97,1263.25L1219.03,1263.23L1210.08,1263.21L1201.13,1263.19L1192.19,1263.15L1183.24,1263.1L1174.3,1263.03L1165.36,1262.95L1156.41,1262.84L1147.46,1262.69L1138.52,1262.49L1129.58,1262.22L1120.63,1261.88L1111.68,1261.42L1102.74,1260.81L1093.8,1260.01L1084.85,1258.95L1075.9,1257.55L1066.96,1255.69L1058.01,1253.24L1049.07,1249.99L1040.12,1245.7L1031.18,1240.03L1022.24,1232.52L1013.29,1222.6L1004.35,1209.47L995.4,1192.11L992.41,1195.44L989.43,1198.79L986.44,1202.17L983.46,1205.57L980.48,1209L977.49,1212.46L974.5,1215.96L971.52,1219.49L968.53,1223.06L965.55,1226.67L962.56,1230.32L959.58,1234.02L956.6,1237.78L953.61,1241.59L950.62,1245.46L947.64,1249.39L944.65,1253.4L941.67,1257.47L938.68,1261.64L935.7,1265.88L932.72,1270.23L929.73,1274.67L926.75,1279.23L923.76,1283.9L920.77,1288.7L917.79,1293.64L914.8,1298.73L911.82,1303.98L908.84,1309.4L905.85,1315L902.87,1320.81L899.88,1326.84L896.89,1333.1L893.91,1339.61L890.92,1346.39L887.94,1353.47L884.96,1360.86L881.97,1368.6L878.99,1376.7L876,1385.2L867.06,1385.2L858.12,1385.2L849.17,1385.2L840.23,1385.2L831.29,1385.2L822.35,1385.2L813.4,1385.2L804.46,1385.2L795.52,1385.21L786.58,1385.21L777.63,1385.21L768.69,1385.21L759.75,1385.22L750.8,1385.23L741.86,1385.24L732.92,1385.25L723.98,1385.26L715.03,1385.29L706.09,1385.32L697.15,1385.36L688.21,1385.41L679.26,1385.49L670.32,1385.59L661.38,1385.72L652.44,1385.9L643.5,1386.14L634.55,1386.47L625.61,1386.91L616.67,1387.51L607.72,1388.31L598.78,1389.39L589.84,1390.84L580.9,1392.8L571.95,1395.44L563.01,1398.99L554.07,1403.78L545.13,1410.24L536.18,1418.93L527.24,1430.65L518.3,1446.43L515.32,1443.45L512.33,1440.44L509.35,1437.41L506.37,1434.34L503.39,1431.24L500.4,1428.11L497.42,1424.95L494.44,1421.74L491.46,1418.49L488.47,1415.2L485.49,1411.86L482.51,1408.46L479.53,1405.01L476.54,1401.5L473.56,1397.92L470.58,1394.27L467.6,1390.54L464.62,1386.74L461.63,1382.85L458.65,1378.86L455.67,1374.77L452.69,1370.57L449.7,1366.26L446.72,1361.82L443.74,1357.24L440.75,1352.52L437.77,1347.64L434.79,1342.59L431.81,1337.36L428.82,1331.94L425.84,1326.3L422.86,1320.45L419.88,1314.34L416.89,1307.98L413.91,1301.34L410.93,1294.39L407.95,1287.12L404.96,1279.5L401.98,1271.5L399,1263.1L369.12,1263.1L339.25,1263.1L309.38,1263.1L279.5,1263.1Z" fill="#D95319" stroke="#D95319" stroke-width="10.5" stroke-linejoin="round"/>
<path d="M279.5,1720.32L309.38,1720.32L339.25,1720.32L369.12,1720.32L399,1720.3L400.93,1720.25L403.46,1720.18L406.45,1720.11L409.81,1720.02L413.41,1719.94L417.13,1719.85L420.87,1719.76L424.5,1719.68L427.92,1719.6L431,1719.54L433.81,1719.49L436.52,1719.44L439.13,1719.4L441.67,1719.35L444.16,1719.32L446.61,1719.28L449.05,1719.26L451.5,1719.24L453.98,1719.24L456.5,1719.24L459.05,1719.26L461.6,1719.3L464.15,1719.35L466.7,1719.41L469.25,1719.47L471.8,1719.54L474.35,1719.6L476.9,1719.66L479.45,1719.7L482,1719.73L484.55,1719.75L487.1,1719.76L489.65,1719.76L492.2,1719.76L494.75,1719.76L497.3,1719.74L499.85,1719.72L502.4,1719.7L504.95,1719.67L507.5,1719.63L510.04,1719.59L512.58,1719.55L515.1,1719.51L517.63,1719.47L520.16,1719.61L522.69,1719.8L525.24,1719.97L527.8,1720.12L530.39,1720.26L533,1720.38L535.49,1720.48L537.78,1720.55L539.95,1720.61L542.11,1720.65L544.34,1720.69L546.75,1720.71L549.43,1720.72L552.46,1720.74L555.96,1720.75L560,1720.77L564.33,1720.78L568.69,1720.8L573.21,1720.82L578.02,1720.83L583.25,1720.84L589.02,1720.84L595.45,1720.83L602.67,1720.82L610.81,1720.8L620,1720.77L630.51,1720.72L642.36,1720.66L655.3,1720.59L669.08,1720.51L683.44,1720.42L698.12,1720.33L712.87,1720.24L727.44,1720.15L741.57,1720.07L755,1720L768.36,1719.93L782.27,1719.86L796.45,1719.8L810.62,1719.74L824.5,1719.68L837.82,1719.62L850.31,1719.56L861.69,1719.5L871.68,1719.43L880,1719.74L886.49,1720.3L891.35,1720.71L894.84,1720.97L897.22,1721.13L898.75,1721.2L899.7,1721.21L900.34,1721.18L900.93,1721.14L901.73,1721.1L903,1721.11L904.35,1721.11L905.28,1721.06L905.91,1720.98L906.36,1720.86L906.75,1720.74L907.2,1720.61L907.83,1720.5L908.76,1720.41L910.11,1720.35L912,1720.35L914.49,1720.39L917.5,1720.48L920.92,1720.6L924.63,1720.74L928.53,1720.9L932.51,1721.06L936.45,1721.22L940.26,1721.36L943.81,1721.47L947,1721.55L949.88,1721.6L952.59,1721.62L955.15,1721.63L957.6,1721.62L959.97,1721.6L962.28,1721.58L964.55,1721.55L966.83,1721.53L969.14,1721.51L971.5,1721.5L973.91,1721.5L976.33,1721.49L978.75,1721.47L981.16,1721.46L983.56,1721.45L985.93,1721.44L988.27,1721.44L990.57,1721.45L992.81,1721.48L995,1721.51L996.82,1721.38L998.12,1721.23L999.09,1721.09L999.96,1720.96L1000.93,1720.84L1002.21,1720.74L1004.01,1720.64L1006.53,1720.56L1009.99,1720.49L1014.6,1720.44L1020.25,1720.4L1026.68,1720.38L1033.82,1720.38L1041.64,1720.39L1050.09,1720.42L1059.11,1720.44L1068.66,1720.48L1078.69,1720.51L1089.16,1720.54L1100,1720.56L1111.57,1720.58L1124.1,1720.61L1137.39,1720.64L1151.24,1720.67L1165.46,1720.7L1179.84,1720.73L1194.19,1720.76L1208.29,1720.78L1221.97,1720.8L1235,1720.81L1247.96,1720.81L1261.35,1720.82L1274.93,1720.82L1288.42,1720.82L1301.56,1720.81L1314.1,1720.8L1325.78,1720.78L1336.33,1720.76L1345.49,1720.72L1353,1720.69L1358.56,1721.18L1362.27,1721.51L1364.48,1721.7L1365.53,1721.76L1365.77,1721.73L1365.55,1721.64L1365.22,1721.52L1365.12,1721.41L1365.59,1721.34L1367,1721.34L1369.1,1721.38L1371.42,1721.41L1373.91,1721.45L1376.53,1721.48L1379.24,1721.5L1382,1721.52L1384.76,1721.53L1387.49,1721.53L1390.15,1721.52L1392.7,1721.51L1395.17,1721.48L1397.62,1721.43L1400.06,1721.37L1402.48,1721.31L1404.88,1721.23L1407.26,1721.16L1409.61,1721.09L1411.94,1721.02L1414.23,1720.96L1416.5,1720.92L1418.71,1720.88L1420.84,1720.84L1422.92,1720.81L1424.96,1720.79L1426.99,1720.76L1429.04,1720.74L1431.11,1720.73L1433.23,1720.72L1435.42,1720.71L1437.7,1720.7L1440.12,1720.7L1442.66,1720.7L1445.31,1720.7L1448.01,1720.71L1450.72,1720.72L1453.42,1720.73L1456.05,1720.75L1458.59,1720.78L1460.98,1720.81L1463.2,1720.85L1465.21,1720.9L1467.04,1720.95L1468.73,1721.01L1470.33,1721.07L1471.86,1721.14L1473.37,1721.14L1474.9,1721.06L1476.48,1720.99L1478.17,1720.91L1480,1720.83L1481.61,1720.75L1482.75,1720.67L1483.65,1720.59L1484.52,1720.51L1485.59,1720.43L1487.06,1720.37L1489.16,1720.31L1492.11,1720.25L1496.11,1720.21L1501.4,1720.18L1508.07,1720.16L1515.96,1720.15L1524.88,1720.15L1534.64,1720.16L1545.04,1720.18L1555.89,1720.2L1567,1720.23L1578.19,1720.25L1589.25,1720.28L1600,1720.3L1610.68,1720.31L1621.61,1720.33L1632.74,1720.34L1644.03,1720.36L1655.41,1720.38L1666.84,1720.4L1678.27,1720.42L1689.64,1720.45L1700.9,1720.49L1712,1720.53L1723.31,1720.59L1735.1,1720.64L1747.15,1720.71L1759.23,1720.77L1771.12,1720.85L1782.61,1720.92L1793.46,1721L1803.46,1721.08L1812.38,1721.16L1820,1721.25L1826.16,1721.33L1830.99,1721.36L1834.73,1721.05L1837.62,1720.82L1839.88,1720.67L1841.74,1720.57L1843.46,1720.48L1845.25,1720.4L1847.35,1720.3L1850,1720.16L1853.04,1720L1856.13,1719.84L1859.25,1719.69L1862.38,1719.55L1865.5,1719.42L1868.58,1719.31L1871.59,1719.2L1874.51,1719.11L1877.32,1719.02L1880,1718.95L1882.52,1718.89L1884.9,1718.85L1887.16,1718.83L1889.33,1718.82L1891.44,1718.81L1893.51,1718.81L1895.58,1718.82L1897.66,1718.83L1899.8,1718.84L1902,1718.85L1904.25,1718.86L1906.5,1718.87L1908.76,1718.89L1911.03,1718.92L1913.31,1718.94L1915.61,1718.97L1917.92,1718.99L1920.26,1719.02L1922.61,1719.03L1925,1719.04L1927.46,1719.04L1930.03,1719.04L1932.67,1719.03L1935.34,1719.01L1938,1719L1940.62,1718.98L1943.17,1718.97L1945.61,1718.96L1947.9,1718.95L1950,1718.96L1951.88,1719.16L1953.56,1719.35L1955.08,1719.53L1956.48,1719.7L1957.81,1719.86L1959.12,1720.01L1960.45,1720.16L1961.84,1720.3L1963.34,1720.44L1965,1720.56L1965.97,1720.68L1965.74,1720.8L1964.85,1720.9L1963.83,1721L1963.22,1721.09L1963.55,1721.18L1965.36,1721.25L1969.18,1721.32L1975.55,1721.38L1985,1721.43L1998.83,1721.46L2017.21,1721.48L2038.97,1721.49L2062.96,1721.49L2088,1721.48L2112.94,1721.47L2136.63,1721.45L2157.89,1721.44L2175.57,1721.43L2188.5,1721.43L2188.5,1742.44L2175.57,1742.44L2157.89,1742.45L2136.63,1742.47L2112.94,1742.48L2088,1742.49L2062.96,1742.5L2038.97,1742.5L2017.21,1742.49L1998.83,1742.47L1985,1742.44L1975.55,1742.39L1969.18,1742.33L1965.36,1742.27L1963.55,1742.19L1963.22,1742.11L1963.83,1742.01L1964.85,1741.91L1965.74,1741.81L1965.97,1741.69L1965,1741.57L1963.34,1741.45L1961.84,1741.31L1960.45,1741.17L1959.12,1741.03L1957.81,1740.87L1956.48,1740.71L1955.08,1740.54L1953.56,1740.36L1951.88,1740.17L1950,1739.97L1947.9,1739.95L1945.61,1739.94L1943.17,1739.94L1940.62,1739.93L1938,1739.93L1935.34,1739.93L1932.67,1739.92L1930.03,1739.92L1927.46,1739.91L1925,1739.89L1922.61,1739.86L1920.26,1739.83L1917.92,1739.8L1915.61,1739.76L1913.31,1739.71L1911.03,1739.67L1908.76,1739.63L1906.5,1739.6L1904.25,1739.57L1902,1739.54L1899.8,1739.52L1897.66,1739.5L1895.58,1739.48L1893.51,1739.45L1891.44,1739.44L1889.33,1739.43L1887.16,1739.43L1884.9,1739.44L1882.52,1739.46L1880,1739.5L1877.32,1739.55L1874.51,1739.62L1871.59,1739.7L1868.58,1739.78L1865.5,1739.88L1862.38,1739.99L1859.25,1740.1L1856.13,1740.23L1853.04,1740.37L1850,1740.51L1847.35,1740.64L1845.25,1740.72L1843.46,1740.79L1841.74,1740.86L1839.88,1740.96L1837.62,1741.1L1834.73,1741.3L1830.99,1741.59L1826.16,1741.55L1820,1741.47L1812.38,1741.39L1803.46,1741.31L1793.46,1741.23L1782.61,1741.15L1771.12,1741.07L1759.23,1741L1747.15,1740.93L1735.1,1740.87L1723.31,1740.81L1712,1740.76L1700.9,1740.71L1689.64,1740.68L1678.27,1740.65L1666.84,1740.62L1655.41,1740.6L1644.03,1740.58L1632.74,1740.57L1621.61,1740.55L1610.68,1740.54L1600,1740.52L1589.25,1740.5L1578.19,1740.48L1567,1740.45L1555.89,1740.43L1545.04,1740.41L1534.64,1740.39L1524.88,1740.38L1515.96,1740.37L1508.07,1740.38L1501.4,1740.4L1496.11,1740.43L1492.11,1740.48L1489.16,1740.53L1487.06,1740.59L1485.59,1740.66L1484.52,1740.73L1483.65,1740.81L1482.75,1740.89L1481.61,1740.97L1480,1741.06L1478.17,1741.14L1476.48,1741.21L1474.9,1741.29L1473.37,1741.36L1471.86,1741.37L1470.33,1741.31L1468.73,1741.26L1467.04,1741.21L1465.21,1741.17L1463.2,1741.14L1460.98,1741.11L1458.59,1741.09L1456.05,1741.08L1453.42,1741.08L1450.72,1741.08L1448.01,1741.09L1445.31,1741.1L1442.66,1741.12L1440.12,1741.14L1437.7,1741.16L1435.42,1741.18L1433.23,1741.2L1431.11,1741.23L1429.04,1741.26L1426.99,1741.29L1424.96,1741.33L1422.92,1741.37L1420.84,1741.41L1418.71,1741.46L1416.5,1741.51L1414.23,1741.57L1411.94,1741.65L1409.61,1741.73L1407.26,1741.82L1404.88,1741.91L1402.48,1741.99L1400.06,1742.08L1397.62,1742.15L1395.17,1742.21L1392.7,1742.26L1390.15,1742.29L1387.49,1742.31L1384.76,1742.33L1382,1742.34L1379.24,1742.34L1376.53,1742.33L1373.91,1742.32L1371.42,1742.3L1369.1,1742.28L1367,1742.26L1365.59,1742.27L1365.12,1742.35L1365.22,1742.45L1365.55,1742.57L1365.77,1742.65L1365.53,1742.69L1364.48,1742.63L1362.27,1742.47L1358.56,1742.15L1353,1741.7L1345.49,1741.74L1336.33,1741.77L1325.78,1741.79L1314.1,1741.81L1301.56,1741.82L1288.42,1741.83L1274.93,1741.83L1261.35,1741.83L1247.96,1741.83L1235,1741.82L1221.97,1741.81L1208.29,1741.79L1194.19,1741.77L1179.84,1741.74L1165.46,1741.71L1151.24,1741.68L1137.39,1741.65L1124.1,1741.62L1111.57,1741.6L1100,1741.57L1089.16,1741.55L1078.69,1741.52L1068.66,1741.49L1059.11,1741.46L1050.09,1741.43L1041.64,1741.4L1033.82,1741.39L1026.68,1741.39L1020.25,1741.41L1014.6,1741.45L1009.99,1741.51L1006.53,1741.57L1004.01,1741.65L1002.21,1741.75L1000.93,1741.85L999.96,1741.97L999.09,1742.1L998.12,1742.24L996.82,1742.4L995,1742.53L992.81,1742.5L990.57,1742.5L988.27,1742.5L985.93,1742.52L983.56,1742.54L981.16,1742.56L978.75,1742.59L976.33,1742.62L973.91,1742.65L971.5,1742.67L969.14,1742.69L966.83,1742.73L964.55,1742.77L962.28,1742.81L959.97,1742.85L957.6,1742.88L955.15,1742.9L952.59,1742.91L949.88,1742.91L947,1742.88L943.81,1742.82L940.26,1742.73L936.45,1742.62L932.51,1742.49L928.53,1742.35L924.63,1742.22L920.92,1742.1L917.5,1742.01L914.49,1741.94L912,1741.91L910.11,1741.93L908.76,1741.99L907.83,1742.09L907.2,1742.21L906.75,1742.34L906.36,1742.46L905.91,1742.58L905.28,1742.67L904.35,1742.72L903,1742.73L901.73,1742.73L900.93,1742.77L900.34,1742.82L899.7,1742.85L898.75,1742.85L897.22,1742.79L894.84,1742.65L891.35,1742.4L886.49,1742.03L880,1741.52L871.68,1741.23L861.69,1741.3L850.31,1741.36L837.82,1741.42L824.5,1741.48L810.62,1741.54L796.45,1741.6L782.27,1741.66L768.36,1741.73L755,1741.8L741.57,1741.87L727.44,1741.95L712.87,1742.04L698.12,1742.13L683.44,1742.22L669.08,1742.31L655.3,1742.39L642.36,1742.46L630.51,1742.52L620,1742.57L610.81,1742.6L602.67,1742.62L595.45,1742.63L589.02,1742.64L583.25,1742.64L578.02,1742.63L573.21,1742.62L568.69,1742.6L564.33,1742.58L560,1742.57L555.96,1742.55L552.46,1742.54L549.43,1742.52L546.75,1742.51L544.34,1742.49L542.11,1742.45L539.95,1742.41L537.78,1742.35L535.49,1742.28L533,1742.18L530.39,1742.06L527.8,1741.92L525.24,1741.77L522.69,1741.6L520.16,1741.41L517.63,1741.26L515.1,1741.29L512.58,1741.32L510.04,1741.34L507.5,1741.36L504.95,1741.38L502.4,1741.4L499.85,1741.4L497.3,1741.41L494.75,1741.4L492.2,1741.39L489.65,1741.38L487.1,1741.35L484.55,1741.33L482,1741.29L479.45,1741.25L476.9,1741.19L474.35,1741.11L471.8,1741.03L469.25,1740.95L466.7,1740.87L464.15,1740.79L461.6,1740.72L459.05,1740.67L456.5,1740.63L453.98,1740.61L451.5,1740.6L449.05,1740.6L446.61,1740.61L444.16,1740.63L441.67,1740.65L439.13,1740.67L436.52,1740.7L433.81,1740.74L431,1740.77L427.92,1740.81L424.5,1740.86L420.87,1740.92L417.13,1740.98L413.41,1741.04L409.81,1741.11L406.45,1741.17L403.46,1741.23L400.93,1741.27L399,1741.31L369.12,1741.33L339.25,1741.33L309.38,1741.33L279.5,1741.33Z" fill="#0072BD" stroke="#0072BD" stroke-width="10.5" stroke-linejoin="round"/>
<path d="M279.5,1720.32L309.38,1720.32L339.25,1720.32L369.12,1720.32L399,1720.3L401.98,1730.38L404.96,1739.98L407.95,1749.13L410.93,1757.87L413.91,1766.23L416.89,1774.22L419.88,1781.88L422.86,1789.23L425.84,1796.29L428.82,1803.08L431.81,1809.63L434.79,1815.94L437.77,1822.04L440.75,1827.94L443.74,1833.66L446.72,1839.2L449.7,1844.58L452.69,1849.82L455.67,1854.92L458.65,1859.89L461.63,1864.74L464.62,1869.48L467.6,1874.12L470.58,1878.67L473.56,1883.13L476.54,1887.51L479.53,1891.82L482.51,1896.06L485.49,1900.23L488.47,1904.34L491.46,1908.4L494.44,1912.41L497.42,1916.38L500.4,1920.3L503.39,1924.18L506.37,1928.02L509.35,1931.83L512.33,1935.62L515.32,1939.37L518.3,1943.1L527.24,1922.88L536.18,1907.87L545.13,1896.73L554.07,1888.46L563.01,1882.32L571.95,1877.77L580.9,1874.39L589.84,1871.88L598.78,1870.01L607.72,1868.63L616.67,1867.6L625.61,1866.84L634.55,1866.28L643.5,1865.86L652.44,1865.55L661.38,1865.32L670.32,1865.14L679.26,1865.02L688.21,1864.92L697.15,1864.85L706.09,1864.8L715.03,1864.76L723.98,1864.73L732.92,1864.71L741.86,1864.7L750.8,1864.68L759.75,1864.67L768.69,1864.67L777.63,1864.66L786.58,1864.66L795.52,1864.66L804.46,1864.66L813.4,1864.65L822.35,1864.65L831.29,1864.65L840.23,1864.65L849.17,1864.65L858.12,1864.65L867.06,1864.65L876,1864.65L878.99,1853.93L881.97,1843.74L884.96,1834.03L887.94,1824.78L890.92,1815.96L893.91,1807.52L896.89,1799.44L899.88,1791.7L902.87,1784.27L905.85,1777.13L908.84,1770.26L911.82,1763.64L914.8,1757.25L917.79,1751.08L920.77,1745.1L923.76,1739.31L926.75,1733.7L929.73,1728.24L932.72,1722.93L935.7,1717.76L938.68,1712.72L941.67,1707.8L944.65,1702.99L947.64,1698.29L950.62,1693.68L953.61,1689.16L956.6,1684.73L959.58,1680.37L962.56,1676.09L965.55,1671.88L968.53,1667.73L971.52,1663.64L974.5,1659.6L977.49,1655.62L980.48,1651.68L983.46,1647.8L986.44,1643.95L989.43,1640.15L992.41,1636.38L995.4,1632.64L1004.35,1654.08L1013.29,1670.3L1022.24,1682.55L1031.18,1691.82L1040.12,1698.83L1049.07,1704.13L1058.01,1708.14L1066.96,1711.17L1075.9,1713.46L1084.85,1715.19L1093.8,1716.5L1102.74,1717.49L1111.68,1718.24L1120.63,1718.81L1129.58,1719.23L1138.52,1719.56L1147.46,1719.8L1156.41,1719.99L1165.36,1720.13L1174.3,1720.23L1183.24,1720.31L1192.19,1720.37L1201.13,1720.42L1210.08,1720.45L1219.03,1720.48L1227.97,1720.5L1236.91,1720.52L1245.86,1720.53L1254.81,1720.54L1263.75,1720.54L1272.7,1720.55L1281.64,1720.55L1290.59,1720.55L1299.53,1720.56L1308.47,1720.56L1317.42,1720.56L1326.37,1720.56L1335.31,1720.56L1344.26,1720.56L1353.2,1720.56L1355,1714.73L1356.79,1708.94L1358.59,1703.3L1360.38,1697.79L1362.17,1692.43L1363.97,1687.2L1365.77,1682.11L1367.56,1677.15L1369.36,1672.31L1371.15,1667.6L1372.94,1663.01L1374.74,1658.54L1376.54,1654.18L1378.33,1649.94L1380.12,1645.81L1381.92,1641.78L1383.71,1637.87L1385.51,1634.05L1387.31,1630.34L1389.1,1626.73L1390.89,1623.21L1392.69,1619.79L1394.49,1616.46L1396.28,1613.22L1398.08,1610.07L1399.87,1607.01L1401.66,1604.03L1403.46,1601.13L1405.26,1598.31L1407.05,1595.57L1408.85,1592.91L1410.64,1590.32L1412.43,1587.81L1414.23,1585.37L1416.03,1583L1417.82,1580.7L1419.62,1578.46L1421.41,1576.29L1423.2,1574.19L1425,1572.14L1448.5,1575.75L1472,1579.37L1495.5,1579.51L1519,1579.56L1526.84,1592.33L1534.67,1602.67L1542.51,1611.03L1550.34,1617.8L1558.17,1623.27L1566.01,1627.7L1573.85,1631.28L1581.68,1634.19L1589.52,1636.53L1597.35,1638.43L1605.18,1639.97L1613.02,1641.21L1620.86,1642.22L1628.69,1643.03L1636.53,1643.69L1644.36,1644.22L1652.19,1644.65L1660.03,1645L1667.87,1645.29L1675.7,1645.51L1683.54,1645.7L1691.37,1645.85L1699.21,1645.97L1707.04,1646.07L1714.88,1646.15L1722.71,1646.21L1730.55,1646.26L1738.38,1646.31L1746.22,1646.34L1754.05,1646.37L1761.88,1646.39L1769.72,1646.41L1777.56,1646.42L1785.39,1646.43L1793.23,1646.44L1801.06,1646.45L1808.89,1646.46L1816.73,1646.46L1824.57,1646.47L1832.4,1646.23L1835.33,1656.34L1838.27,1665.83L1841.2,1674.78L1844.13,1683.22L1847.06,1691.18L1850,1698.7L1852.93,1705.8L1855.86,1712.52L1858.79,1718.88L1861.73,1724.91L1864.66,1730.63L1867.59,1736.06L1870.52,1741.22L1873.46,1746.14L1876.39,1750.82L1879.32,1755.29L1882.25,1759.55L1885.19,1763.63L1888.12,1767.53L1891.05,1771.28L1893.98,1774.87L1896.91,1778.32L1899.85,1781.65L1902.78,1784.85L1905.71,1787.94L1908.64,1790.93L1911.58,1793.82L1914.51,1796.62L1917.44,1799.33L1920.38,1801.97L1923.31,1804.54L1926.24,1807.04L1929.17,1809.48L1932.11,1811.86L1935.04,1814.19L1937.97,1816.46L1940.9,1818.7L1943.84,1820.89L1946.77,1823.04L1949.7,1825.15L1953.68,1813.24L1957.66,1802.7L1961.64,1793.35L1965.62,1785.07L1969.6,1777.73L1973.58,1771.22L1977.56,1765.45L1981.54,1760.33L1985.52,1755.8L1989.5,1751.78L1993.48,1748.22L1997.46,1745.07L2001.44,1742.27L2005.42,1739.79L2009.4,1737.59L2013.38,1735.64L2017.36,1733.91L2021.34,1732.38L2025.32,1731.03L2029.3,1729.82L2033.28,1728.76L2037.26,1727.81L2041.24,1726.97L2045.22,1726.23L2049.2,1725.57L2053.18,1724.99L2057.16,1724.47L2061.14,1724.01L2065.12,1723.61L2069.1,1723.25L2073.08,1722.93L2077.06,1722.65L2081.04,1722.4L2085.02,1722.17L2089,1721.98L2092.98,1721.8L2096.96,1721.65L2100.94,1721.51L2104.92,1721.39L2108.9,1721.28L2112.88,1721.18L2116.86,1721.1L2120.84,1721.02L2124.82,1720.96L2128.8,1720.9L2132.78,1720.85L2136.76,1720.8L2140.74,1720.76L2144.72,1720.72L2148.7,1720.69L2152.68,1720.66L2156.66,1720.64L2160.64,1720.61L2164.62,1720.59L2168.6,1720.58L2172.58,1720.56L2176.56,1720.55L2180.54,1720.53L2184.52,1720.52L2188.5,1720.51L2188.5,1741.53L2184.52,1741.54L2180.54,1741.55L2176.56,1741.56L2172.58,1741.57L2168.6,1741.59L2164.62,1741.61L2160.64,1741.63L2156.66,1741.65L2152.68,1741.67L2148.7,1741.7L2144.72,1741.73L2140.74,1741.77L2136.76,1741.81L2132.78,1741.86L2128.8,1741.91L2124.82,1741.97L2120.84,1742.04L2116.86,1742.11L2112.88,1742.2L2108.9,1742.29L2104.92,1742.4L2100.94,1742.52L2096.96,1742.66L2092.98,1742.81L2089,1742.99L2085.02,1743.18L2081.04,1743.41L2077.06,1743.66L2073.08,1743.94L2069.1,1744.26L2065.12,1744.62L2061.14,1745.03L2057.16,1745.48L2053.18,1746L2049.2,1746.58L2045.22,1747.24L2041.24,1747.99L2037.26,1748.82L2033.28,1749.77L2029.3,1750.83L2025.32,1752.04L2021.34,1753.39L2017.36,1754.92L2013.38,1756.65L2009.4,1758.6L2005.42,1760.8L2001.44,1763.28L1997.46,1766.08L1993.48,1769.23L1989.5,1772.79L1985.52,1776.81L1981.54,1781.35L1977.56,1786.46L1973.58,1792.23L1969.6,1798.74L1965.62,1806.08L1961.64,1814.36L1957.66,1823.71L1953.68,1834.25L1949.7,1846.16L1946.77,1844.03L1943.84,1841.86L1940.9,1839.65L1937.97,1837.4L1935.04,1835.1L1932.11,1832.75L1929.17,1830.35L1926.24,1827.89L1923.31,1825.37L1920.38,1822.79L1917.44,1820.13L1914.51,1817.39L1911.58,1814.58L1908.64,1811.67L1905.71,1808.66L1902.78,1805.55L1899.85,1802.33L1896.91,1798.98L1893.98,1795.51L1891.05,1791.9L1888.12,1788.14L1885.19,1784.21L1882.25,1780.12L1879.32,1775.83L1876.39,1771.35L1873.46,1766.65L1870.52,1761.71L1867.59,1756.53L1864.66,1751.08L1861.73,1745.34L1858.79,1739.29L1855.86,1732.91L1852.93,1726.17L1850,1719.05L1847.06,1711.51L1844.13,1703.53L1841.2,1695.08L1838.27,1686.11L1835.33,1676.59L1832.4,1666.47L1824.57,1666.69L1816.73,1666.69L1808.89,1666.68L1801.06,1666.67L1793.23,1666.67L1785.39,1666.66L1777.56,1666.65L1769.72,1666.63L1761.88,1666.61L1754.05,1666.59L1746.22,1666.56L1738.38,1666.53L1730.55,1666.49L1722.71,1666.44L1714.88,1666.37L1707.04,1666.29L1699.21,1666.19L1691.37,1666.07L1683.54,1665.92L1675.7,1665.74L1667.87,1665.51L1660.03,1665.23L1652.19,1664.88L1644.36,1664.45L1636.53,1663.91L1628.69,1663.26L1620.86,1662.44L1613.02,1661.44L1605.18,1660.19L1597.35,1658.66L1589.52,1656.76L1581.68,1654.41L1573.85,1651.51L1566.01,1647.92L1558.17,1643.49L1550.34,1638.02L1542.51,1631.25L1534.67,1622.89L1526.84,1612.56L1519,1599.79L1495.5,1599.74L1472,1599.59L1448.5,1596.14L1425,1592.68L1423.2,1594.74L1421.41,1596.85L1419.62,1599.04L1417.82,1601.28L1416.03,1603.6L1414.23,1605.98L1412.43,1608.43L1410.64,1610.96L1408.85,1613.56L1407.05,1616.23L1405.26,1618.98L1403.46,1621.81L1401.66,1624.72L1399.87,1627.71L1398.08,1630.79L1396.28,1633.95L1394.49,1637.2L1392.69,1640.54L1390.89,1643.98L1389.1,1647.5L1387.31,1651.13L1385.51,1654.85L1383.71,1658.68L1381.92,1662.61L1380.12,1666.64L1378.33,1670.78L1376.54,1675.04L1374.74,1679.41L1372.94,1683.89L1371.15,1688.49L1369.36,1693.22L1367.56,1698.06L1365.77,1703.04L1363.97,1708.15L1362.17,1713.38L1360.38,1718.76L1358.59,1724.27L1356.79,1729.93L1355,1735.73L1353.2,1741.57L1344.26,1741.57L1335.31,1741.57L1326.37,1741.57L1317.42,1741.57L1308.47,1741.57L1299.53,1741.57L1290.59,1741.57L1281.64,1741.56L1272.7,1741.56L1263.75,1741.55L1254.81,1741.55L1245.86,1741.54L1236.91,1741.53L1227.97,1741.51L1219.03,1741.49L1210.08,1741.47L1201.13,1741.43L1192.19,1741.39L1183.24,1741.33L1174.3,1741.25L1165.36,1741.14L1156.41,1741L1147.46,1740.81L1138.52,1740.57L1129.58,1740.25L1120.63,1739.82L1111.68,1739.25L1102.74,1738.5L1093.8,1737.51L1084.85,1736.2L1075.9,1734.47L1066.96,1732.18L1058.01,1729.15L1049.07,1725.14L1040.12,1719.84L1031.18,1712.83L1022.24,1703.56L1013.29,1691.31L1004.35,1675.1L995.4,1653.65L992.41,1657.41L989.43,1661.2L986.44,1665.02L983.46,1668.89L980.48,1672.79L977.49,1676.75L974.5,1680.75L971.52,1684.8L968.53,1688.92L965.55,1693.09L962.56,1697.32L959.58,1701.62L956.6,1706L953.61,1710.45L950.62,1714.99L947.64,1719.62L944.65,1724.34L941.67,1729.17L938.68,1734.11L935.7,1739.17L932.72,1744.36L929.73,1749.68L926.75,1755.16L923.76,1760.8L920.77,1766.61L917.79,1772.6L914.8,1778.8L911.82,1785.21L908.84,1791.85L905.85,1798.74L902.87,1805.89L899.88,1813.34L896.89,1821.1L893.91,1829.2L890.92,1837.66L887.94,1846.5L884.96,1855.77L881.97,1865.5L878.99,1875.71L876,1886.45L867.06,1886.45L858.12,1886.45L849.17,1886.45L840.23,1886.45L831.29,1886.45L822.35,1886.45L813.4,1886.45L804.46,1886.45L795.52,1886.46L786.58,1886.46L777.63,1886.46L768.69,1886.47L759.75,1886.47L750.8,1886.48L741.86,1886.49L732.92,1886.51L723.98,1886.53L715.03,1886.56L706.09,1886.6L697.15,1886.65L688.21,1886.72L679.26,1886.82L670.32,1886.94L661.38,1887.11L652.44,1887.35L643.5,1887.66L634.55,1888.08L625.61,1888.64L616.67,1889.4L607.72,1890.43L598.78,1891.81L589.84,1893.68L580.9,1896.19L571.95,1899.57L563.01,1904.12L554.07,1910.26L545.13,1918.53L536.18,1929.67L527.24,1944.68L518.3,1964.9L515.32,1961.15L512.33,1957.38L509.35,1953.58L506.37,1949.74L503.39,1945.88L500.4,1941.98L497.42,1938.04L494.44,1934.06L491.46,1930.03L488.47,1925.95L485.49,1921.81L482.51,1917.62L479.53,1913.36L476.54,1909.04L473.56,1904.64L470.58,1900.16L467.6,1895.59L464.62,1890.93L461.63,1886.17L458.65,1881.29L455.67,1876.3L452.69,1871.19L449.7,1865.93L446.72,1860.53L443.74,1854.96L440.75,1849.23L437.77,1843.31L434.79,1837.19L431.81,1830.86L428.82,1824.29L425.84,1817.48L422.86,1810.4L419.88,1803.03L416.89,1795.35L413.91,1787.34L410.93,1778.96L407.95,1770.21L404.96,1761.03L401.98,1751.41L399,1741.31L369.12,1741.33L339.25,1741.33L309.38,1741.33L279.5,1741.33Z" fill="#D95319" stroke="#D95319" stroke-width="10.5" stroke-linejoin="round"/>
<text x="279.5" y="2053.3" class="tk" text-anchor="middle">0.1</text>
<text x="518.12" y="2053.3" class="tk" text-anchor="middle">0.2</text>
<text x="756.75" y="2053.3" class="tk" text-anchor="middle">0.3</text>
<text x="995.38" y="2053.3" class="tk" text-anchor="middle">0.4</text>
<text x="1234" y="2053.3" class="tk" text-anchor="middle">0.5</text>
<text x="1472.62" y="2053.3" class="tk" text-anchor="middle">0.6</text>
<text x="1711.25" y="2053.3" class="tk" text-anchor="middle">0.7</text>
<text x="1949.88" y="2053.3" class="tk" text-anchor="middle">0.8</text>
<text x="2188.5" y="2053.3" class="tk" text-anchor="middle">0.9</text>
<rect x="427" y="12.6" width="1624.1" height="112.9" fill="#ffffff" stroke="#262626" stroke-width="2.6"/>
<path d="M440.9,69H582.1" stroke="#0072BD" stroke-width="10"/>
<path d="M1303.3,68.7H1445.1" stroke="#D95319" stroke-width="10"/>
<text transform="translate(591.58,94) scale(0.9736,1)" font-family='"Liberation Sans",Arial,Helvetica,sans-serif' font-weight="normal" font-size="67.5" fill="#000000">Conventional Controller</text>
<text transform="translate(1456.45,94) scale(0.9695,1)" font-family='"Liberation Sans",Arial,Helvetica,sans-serif' font-weight="normal" font-size="67.5" fill="#000000">Proposed Controller</text>
<text transform="translate(304.54,537.6) scale(0.9651,1)" font-family='"Liberation Sans",Arial,Helvetica,sans-serif' font-weight="bold" font-size="68.7" fill="#7E2F8E">PCC Voltage (V)</text>
<text transform="translate(303.33,991.7) scale(0.9674,1)" font-family='"Liberation Sans",Arial,Helvetica,sans-serif' font-weight="bold" font-size="68.7" fill="#7E2F8E">PV Voltage (V)</text>
<text transform="translate(302.83,1179.6) scale(0.9581,1)" font-family='"Liberation Sans",Arial,Helvetica,sans-serif' font-weight="bold" font-size="68.7" fill="#7E2F8E">Converter Current (A)</text>
<text transform="translate(302.53,1646.2) scale(0.9579,1)" font-family='"Liberation Sans",Arial,Helvetica,sans-serif' font-weight="bold" font-size="68.7" fill="#7E2F8E">Converter Power (W)</text>
<text transform="translate(1108.87,2136.5) scale(1.0304,1)" font-family='"Liberation Serif","Times New Roman",serif' font-weight="normal" font-size="78" fill="#262626">time</text>
<text transform="translate(1278.12,2136.5) scale(0.8938,1)" font-family='"Liberation Serif","Times New Roman",serif' font-weight="normal" font-size="82" fill="#262626">(s)</text>
<text transform="translate(105.7,471.29) rotate(-90) scale(0.9947,1)" font-family='"Liberation Serif","Times New Roman",serif' font-weight="normal" font-size="76" fill="#262626"><tspan font-style="italic">v</tspan><tspan font-size="50" dy="9.6">g</tspan></text>
<text transform="translate(105.7,379.3) rotate(-90) scale(0.8991,1)" font-family='"Liberation Serif","Times New Roman",serif' font-weight="normal" font-size="82" fill="#262626">(V)</text>
<text transform="translate(105.5,928.32) rotate(-90) scale(1.0167,1)" font-family='"Liberation Serif","Times New Roman",serif' font-weight="normal" font-size="76" fill="#262626"><tspan font-style="italic">v</tspan><tspan font-size="50" dy="9.6">c</tspan></text>
<text transform="translate(105.5,838.41) rotate(-90) scale(0.9019,1)" font-family='"Liberation Serif","Times New Roman",serif' font-weight="normal" font-size="82" fill="#262626">(V)</text>
<text transform="translate(143,1374.52) rotate(-90) scale(1.3800,1)" font-family='"Liberation Serif","Times New Roman",serif' font-weight="normal" font-size="76" fill="#262626"><tspan font-style="italic">i</tspan></text>
<text transform="translate(143,1316.81) rotate(-90) scale(0.9019,1)" font-family='"Liberation Serif","Times New Roman",serif' font-weight="normal" font-size="82" fill="#262626">(A)</text>
<text transform="translate(70.8,1873.73) rotate(-90) scale(1.1067,1)" font-family='"Liberation Serif","Times New Roman",serif' font-weight="normal" font-size="76" fill="#262626"><tspan font-style="italic">iv</tspan><tspan font-size="50" dy="9.6">g</tspan></text>
<text transform="translate(70.8,1752.39) rotate(-90) scale(0.9302,1)" font-family='"Liberation Serif","Times New Roman",serif' font-weight="normal" font-size="82" fill="#262626">(W)</text>
</svg>
</body></html>
